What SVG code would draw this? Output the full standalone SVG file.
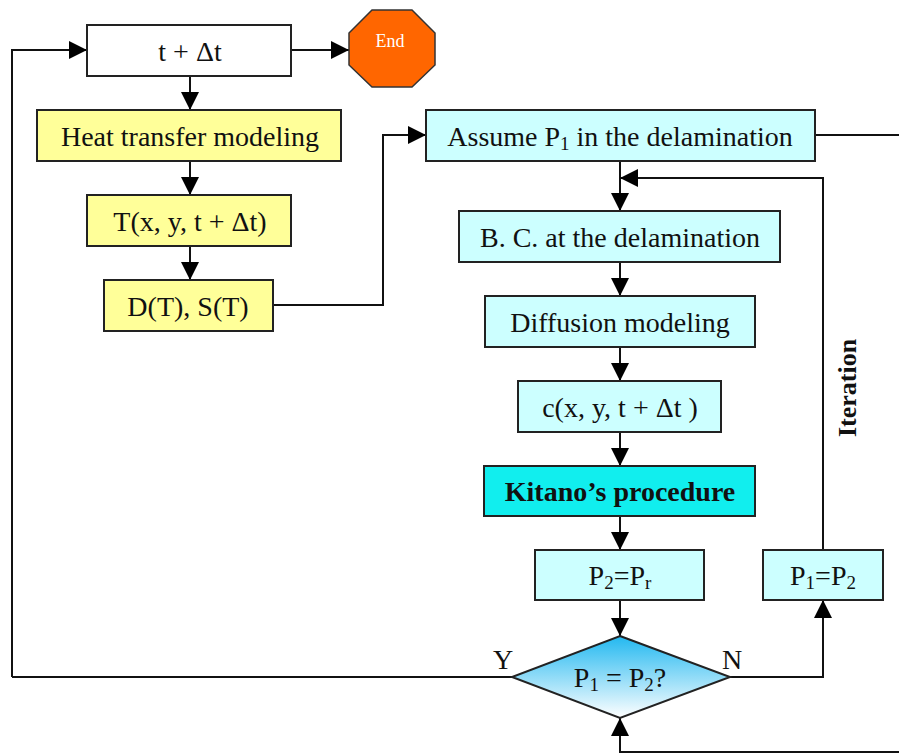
<svg xmlns="http://www.w3.org/2000/svg" width="899" height="756" viewBox="0 0 899 756">
<defs>
<marker id="ah" viewBox="0 0 18 18" refX="18" refY="9" markerWidth="18" markerHeight="18" markerUnits="userSpaceOnUse" orient="auto">
<path d="M0,0 L18,9 L0,18 Z" fill="#000"/>
</marker>
<linearGradient id="dg" x1="0" y1="0" x2="0" y2="1">
<stop offset="0" stop-color="#22b8f0"/>
<stop offset="1" stop-color="#ffffff"/>
</linearGradient>
<style>
.box{stroke:#222;stroke-width:2}
.y{fill:#ffff99}
.c{fill:#ccffff}
.k{fill:#11eeee}
.w{fill:#fff}
.t{font-family:"Liberation Serif","Times New Roman",serif;font-size:28px;fill:#111;text-anchor:middle}
.s{font-size:19px}
.b{font-weight:bold}
.ln{fill:none;stroke:#111;stroke-width:2}
</style>
</defs>
<g id="connectors">
<path class="ln" d="M12,677 L12,50 L87,50" marker-end="url(#ah)"/>
<path class="ln" d="M291,50 L349,50" marker-end="url(#ah)"/>
<path class="ln" d="M190,76 L190,110" marker-end="url(#ah)"/>
<path class="ln" d="M190,161 L190,195" marker-end="url(#ah)"/>
<path class="ln" d="M190,246 L190,280" marker-end="url(#ah)"/>
<path class="ln" d="M273,305 L383,305 L383,135 L426,135" marker-end="url(#ah)"/>
<path class="ln" d="M815,135 L899,135"/>
<path class="ln" d="M620,161 L620,211" marker-end="url(#ah)"/>
<path class="ln" d="M823,550 L823,178 L620,178" marker-end="url(#ah)"/>
<path class="ln" d="M620,262 L620,296" marker-end="url(#ah)"/>
<path class="ln" d="M620,347 L620,381" marker-end="url(#ah)"/>
<path class="ln" d="M620,432 L620,466" marker-end="url(#ah)"/>
<path class="ln" d="M620,516 L620,550" marker-end="url(#ah)"/>
<path class="ln" d="M620,600 L620,636" marker-end="url(#ah)"/>
<path class="ln" d="M512,677 L12,677"/>
<path class="ln" d="M730,677 L823,677 L823,600" marker-end="url(#ah)"/>
<path class="ln" d="M899,752 L620,752 L620,718" marker-end="url(#ah)"/>
</g>
<g id="n-time">
<rect class="box w" x="87" y="25" width="204" height="51"/>
<text class="t" x="190" y="61">t + Δt</text>
</g>
<g id="n-end">
<polygon points="372,10 412,10 435,33 435,65 412,87 372,87 349,65 349,33" fill="#ff6600" stroke="#333" stroke-width="1.5"/>
<text x="390" y="47" font-family="Liberation Serif,serif" font-size="18" fill="#fff" text-anchor="middle">End</text>
</g>
<g id="n-heat">
<rect class="box y" x="37" y="110" width="304" height="51"/>
<text class="t" x="190" y="146">Heat transfer modeling</text>
</g>
<g id="n-temp">
<rect class="box y" x="87" y="195" width="204" height="51"/>
<text class="t" x="190" y="231">T(x, y, t + Δt)</text>
</g>
<g id="n-ds">
<rect class="box y" x="104" y="280" width="169" height="51"/>
<text class="t" x="188" y="316">D(T), S(T)</text>
</g>
<g id="n-assume">
<rect class="box c" x="426" y="110" width="389" height="51"/>
<text class="t" x="620" y="146">Assume P<tspan class="s" dy="4">1</tspan><tspan dy="-4"> in the delamination</tspan></text>
</g>
<g id="n-bc">
<rect class="box c" x="459" y="211" width="321" height="51"/>
<text class="t" x="620" y="247">B. C. at the delamination</text>
</g>
<g id="n-diff">
<rect class="box c" x="485" y="296" width="270" height="51"/>
<text class="t" x="620" y="332">Diffusion modeling</text>
</g>
<g id="n-conc">
<rect class="box c" x="518" y="381" width="203" height="51"/>
<text class="t" x="620" y="417">c(x, y, t + Δt )</text>
</g>
<g id="n-kitano">
<rect class="box k" x="484" y="466" width="271" height="50"/>
<text class="t b" x="620" y="501">Kitano’s procedure</text>
</g>
<g id="n-p2">
<rect class="box c" x="535" y="550" width="169" height="50"/>
<text class="t" x="620" y="585">P<tspan class="s" dy="4">2</tspan><tspan dy="-4">=P</tspan><tspan class="s" dy="4">r</tspan></text>
</g>
<g id="n-decision">
<polygon points="620,636 730,677 620,718 512,677" fill="url(#dg)" stroke="#222" stroke-width="2"/>
<text class="t" x="620" y="687">P<tspan class="s" dy="4">1</tspan><tspan dy="-4"> = P</tspan><tspan class="s" dy="4">2</tspan><tspan dy="-4">?</tspan></text>
<text class="t" x="503" y="669">Y</text>
<text class="t" x="732" y="669">N</text>
</g>
<g id="n-p1">
<rect class="box c" x="763" y="550" width="120" height="50"/>
<text class="t" x="823" y="585">P<tspan class="s" dy="4">1</tspan><tspan dy="-4">=P</tspan><tspan class="s" dy="4">2</tspan></text>
</g>
<g id="label-iteration">
<text class="t b" x="0" y="0" style="font-size:26px" transform="translate(856,388) rotate(-90)">Iteration</text>
</g>
</svg>
